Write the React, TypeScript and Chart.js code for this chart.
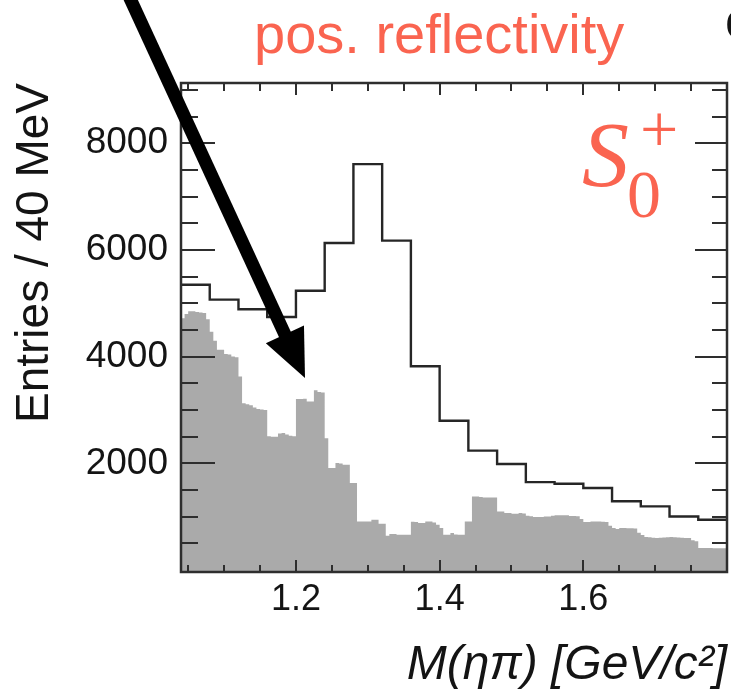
import React, { useEffect, useRef } from 'react';
import { Chart, registerables } from 'chart.js';

Chart.register(...registerables);

// ---------- data ----------
const xMin = 1.04;
const xMax = 1.8;
const yMin = -35;
const yMax = 9130;

// outline histogram: 40 MeV bins from 1.04 to 1.80
const outlineStart = 1.04;
const outlineBinWidth = 0.04;
const outlineCounts = [
  5350, 5070, 4890, 4745, 5235, 6130, 7610, 6175, 3820, 2800,
  2240, 1990, 1650, 1620, 1540, 1290, 1195, 1005, 945,
];

// grey filled histogram: 5 MeV bins from 1.04 to 1.80
const greyStart = 1.04;
const greyBinWidth = 0.005;
const greyCounts = [
  4720, 4800, 4850, 4850, 4840, 4830, 4820, 4700, 4470, 4300,
  4130, 4130, 4050, 4040, 4005, 3990, 3630, 3130, 3110, 3090,
  3050, 3020, 3010, 3000, 2510, 2500, 2500, 2560, 2570, 2540,
  2520, 2510, 3207, 3207, 3210, 3160, 3160, 3370, 3340, 3330,
  2470, 1913, 1913, 2007, 2000, 1976, 1976, 1632, 1632, 913,
  913, 913, 913, 944, 944, 869, 870, 644, 675, 675,
  663, 663, 663, 663, 905, 900, 882, 882, 913, 913,
  895, 850, 788, 663, 663, 694, 670, 663, 663, 913,
  913, 1381, 1381, 1370, 1363, 1363, 1363, 1363, 1100, 1100,
  1069, 1069, 1056, 1056, 1069, 1060, 1019, 1010, 994, 994,
  994, 1006, 1006, 1020, 1030, 1030, 1030, 1030, 1015, 1015,
  1010, 960, 900, 900, 910, 910, 910, 905, 900, 830,
  790, 770, 790, 790, 785, 785, 780, 700, 660, 620,
  615, 605, 600, 605, 610, 615, 620, 615, 610, 605,
  600, 600, 560, 540, 415, 415, 413, 413, 412, 410,
  410, 410,
];

const xTickValues = [1.2, 1.4, 1.6];
const xTickLabels = ['1.2', '1.4', '1.6'];
const yTickValues = [2000, 4000, 6000, 8000];
const yTickLabels = ['2000', '4000', '6000', '8000'];
const xMinorStep = 0.05;
const yMinorStep = 500;

const titleText = 'pos. reflectivity';
const xTitle = 'M(ηπ) [GeV/c²]';
const yTitle = 'Entries / 40 MeV';

// ---------- helpers ----------
function stepPoints(start: number, width: number, counts: number[]) {
  const pts: { x: number; y: number }[] = [];
  counts.forEach((c, i) => {
    const x0 = start + i * width;
    pts.push({ x: x0, y: c });
    pts.push({ x: x0 + width, y: c });
  });
  return pts;
}

const SANS = '"Liberation Sans", Arial, Helvetica, sans-serif';
const SERIF = '"Liberation Serif", "Times New Roman", serif';
const CORAL = '#fa6450';
const INK = '#141414';

const decorPlugin = {
  id: 'decor',
  afterDatasetsDraw(chart: any) {
    const { ctx, chartArea } = chart;
    const { left, right, top, bottom } = chartArea;
    const xs = chart.scales.x;
    const ys = chart.scales.y;
    ctx.save();
    ctx.strokeStyle = '#2e2e2e';
    ctx.lineWidth = 2;
    ctx.beginPath();
    // x ticks (bottom and top)
    const nx = Math.round((xMax - 1.05) / xMinorStep);
    for (let k = 0; k <= nx; k++) {
      const v = 1.05 + k * xMinorStep;
      if (v > xMax + 1e-9) break;
      const px = Math.round(xs.getPixelForValue(v));
      const major = xTickValues.some((t) => Math.abs(t - v) < 1e-6);
      const lb = major ? 12 : 7;
      const lt = major ? 12 : 8;
      ctx.moveTo(px, bottom);
      ctx.lineTo(px, bottom - lb);
      ctx.moveTo(px, top);
      ctx.lineTo(px, top + lt);
    }
    // y ticks (left and right)
    const ny = Math.floor(yMax / yMinorStep);
    for (let k = 1; k <= ny; k++) {
      const v = k * yMinorStep;
      const py = Math.round(ys.getPixelForValue(v));
      const major = v % 2000 === 0;
      const ll = major ? 34 : 17;
      const lr = major ? 32 : 15;
      ctx.moveTo(left, py);
      ctx.lineTo(left + ll, py);
      ctx.moveTo(right, py);
      ctx.lineTo(right - lr, py);
    }
    ctx.stroke();
    // frame
    ctx.lineWidth = 2.5;
    ctx.strokeRect(left, top, right - left, bottom - top);
    ctx.restore();
  },
  afterDraw(chart: any) {
    const { ctx } = chart;
    ctx.save();
    // title
    ctx.fillStyle = CORAL;
    ctx.textBaseline = 'alphabetic';
    ctx.textAlign = 'left';
    ctx.font = `56px ${SANS}`;
    ctx.fillText(titleText, 254, 53);
    // S_0^+
    ctx.font = `italic 94px ${SERIF}`;
    ctx.fillText('S', 582, 186);
    ctx.font = `68px ${SERIF}`;
    ctx.fillText('0', 627, 217);
    ctx.fillText('+', 640, 152);
    // clipped black glyph at right edge
    ctx.fillStyle = INK;
    ctx.font = `52px ${SANS}`;
    ctx.fillText('c', 725, 38);
    // arrow
    const x0 = 128, y0 = -6;
    const tipX = 305, tipY = 378;
    const dx = tipX - x0, dy = tipY - y0;
    const len = Math.hypot(dx, dy);
    const ux = dx / len, uy = dy / len;
    const headLen = 48, headHalf = 21;
    const bx = tipX - ux * headLen, by = tipY - uy * headLen;
    ctx.strokeStyle = '#000';
    ctx.lineWidth = 13;
    ctx.lineCap = 'butt';
    ctx.beginPath();
    ctx.moveTo(x0, y0);
    ctx.lineTo(bx + ux * 2, by + uy * 2);
    ctx.stroke();
    ctx.fillStyle = '#000';
    ctx.beginPath();
    ctx.moveTo(tipX, tipY);
    ctx.lineTo(bx - uy * headHalf, by + ux * headHalf);
    ctx.lineTo(bx + uy * headHalf, by - ux * headHalf);
    ctx.closePath();
    ctx.fill();
    ctx.restore();
  },
};

export default function App() {
  const ref = useRef<HTMLCanvasElement>(null);
  useEffect(() => {
    const canvas = ref.current;
    if (!canvas) return;
    const chart = new Chart(canvas, {
      type: 'line',
      data: {
        datasets: [
          {
            label: 'total',
            data: stepPoints(outlineStart, outlineBinWidth, outlineCounts),
            borderColor: '#262626',
            borderWidth: 2.4,
            pointRadius: 0,
            fill: false,
            tension: 0,
          },
          {
            label: 'S0+',
            data: stepPoints(greyStart, greyBinWidth, greyCounts),
            borderColor: 'rgba(0,0,0,0)',
            borderWidth: 0,
            backgroundColor: '#aaaaaa',
            pointRadius: 0,
            fill: 'start',
            tension: 0,
          },
        ],
      },
      options: {
        responsive: false,
        animation: false,
        devicePixelRatio: 1,
        layout: { padding: { top: 83, right: 4, bottom: 0, left: 0 } },
        plugins: {
          legend: { display: false },
          tooltip: { enabled: false },
          title: { display: false },
        },
        scales: {
          x: {
            type: 'linear',
            min: xMin,
            max: xMax,
            afterBuildTicks: (s: any) => {
              s.ticks = xTickValues.map((v) => ({ value: v }));
            },
            afterFit: (s: any) => {
              s.height = 119;
            },
            grid: { display: false, drawTicks: false },
            border: { display: false },
            ticks: {
              autoSkip: false,
              maxRotation: 0,
              padding: 6,
              color: INK,
              font: { family: SANS, size: 36 },
              callback: (v: any) => {
                const i = xTickValues.findIndex((t) => Math.abs(t - Number(v)) < 1e-6);
                return i >= 0 ? xTickLabels[i] : '';
              },
            },
            title: {
              display: true,
              text: xTitle,
              align: 'end',
              color: INK,
              font: { family: SANS, size: 48, style: 'italic', lineHeight: 1 },
              padding: { top: 0, bottom: 1 },
            },
          },
          y: {
            type: 'linear',
            min: yMin,
            max: yMax,
            afterBuildTicks: (s: any) => {
              s.ticks = yTickValues.map((v) => ({ value: v }));
            },
            afterFit: (s: any) => {
              s.width = 181;
            },
            grid: { display: false, drawTicks: false },
            border: { display: false },
            ticks: {
              autoSkip: false,
              padding: 13,
              color: INK,
              font: { family: SANS, size: 37 },
              callback: (v: any) => {
                const i = yTickValues.indexOf(Number(v));
                return i >= 0 ? yTickLabels[i] : '';
              },
            },
            title: {
              display: true,
              text: yTitle,
              align: 'end',
              color: INK,
              font: { family: SANS, size: 46 },
              padding: { top: 8, bottom: 0 },
            },
          },
        },
      },
      plugins: [decorPlugin],
    } as any);
    return () => chart.destroy();
  }, []);
  return (
    <div style={{ position: 'absolute', left: 0, top: 0, width: 731, height: 691, background: '#fff' }}>
      <canvas ref={ref} width={731} height={691} style={{ display: 'block', width: 731, height: 691 }} />
    </div>
  );
}
